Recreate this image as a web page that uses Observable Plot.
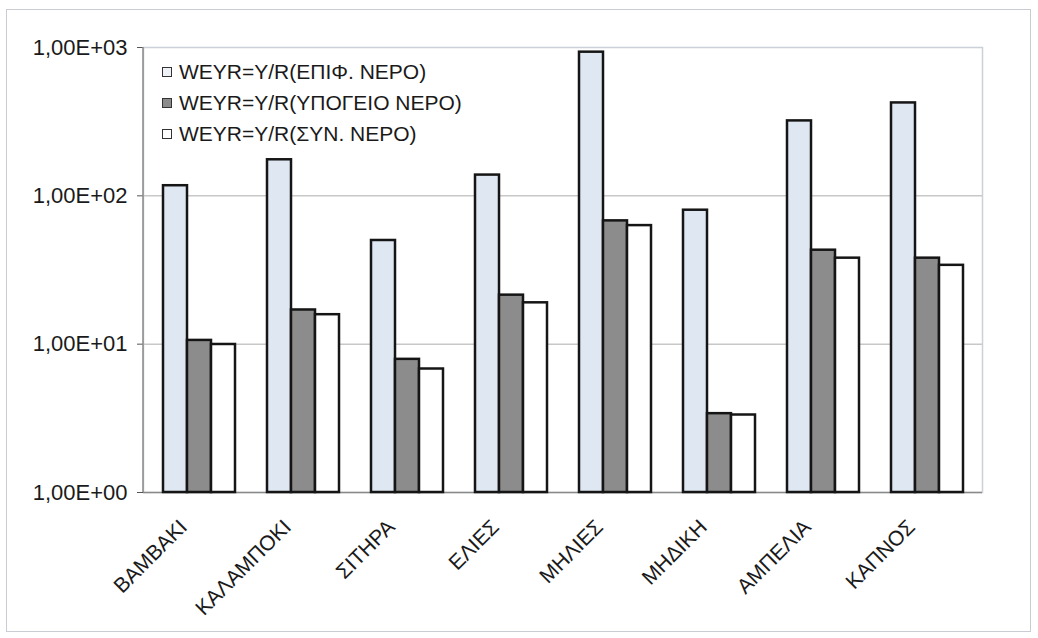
<!DOCTYPE html>
<html>
<head>
<meta charset="utf-8">
<script src="https://cdn.jsdelivr.net/npm/d3@7"></script>
<script src="https://cdn.jsdelivr.net/npm/@observablehq/plot@0.6"></script>
<style>
  body { margin: 0; background: #fff; font-family: "Liberation Sans", Arial, sans-serif; }
  #wrap { position: relative; width: 1038px; height: 638px; }
  #frame { position: absolute; left: 6px; top: 9px; width: 1025px; height: 623px;
           border: 1.5px solid #c9ccd3; box-sizing: border-box; pointer-events: none; }
  #legend { position: absolute; left: 162px; top: 56px; font-size: 21px; color: #1a1a1a; }
  .row { display: flex; align-items: center; height: 31px; white-space: nowrap; }
  .sw { width: 10px; height: 10px; border: 1.5px solid #333; margin-right: 7px; box-sizing: border-box; }
</style>
</head>
<body>
<div id="wrap">
  <div id="chart"></div>
  <div id="legend"></div>
  <div id="frame"></div>
</div>
<script>
// Crops
const categories = ["ΒΑΜΒΑΚΙ", "ΚΑΛΑΜΠΟΚΙ", "ΣΙΤΗΡΑ", "ΕΛΙΕΣ", "ΜΗΛΙΕΣ", "ΜΗΔΙΚΗ", "ΑΜΠΕΛΙΑ", "ΚΑΠΝΟΣ"];

// Series names
const seriesNames = ["WEYR=Y/R(ΕΠΙΦ. ΝΕΡΟ)", "WEYR=Y/R(ΥΠΟΓΕΙΟ ΝΕΡΟ)", "WEYR=Y/R(ΣΥΝ. ΝΕΡΟ)"];

// Water economic yield ratio per crop
const surfaceWater = [117, 175, 50, 138, 930, 80, 320, 423];
const groundWater  = [10.6, 17, 7.9, 21.4, 67.8, 3.4, 43, 38];
const combinedWater = [9.95, 15.8, 6.8, 19, 63, 3.33, 38, 34];

// Y axis ticks (log scale)
const yTicks = [1, 10, 100, 1000];

const seriesValues = [surfaceWater, groundWater, combinedWater];
const seriesFill = ["#dfe7f2", "#8c8c8c", "#ffffff"];

const fmt = d => {
  const e = Math.round(Math.log10(d));
  const m = d / Math.pow(10, e);
  return m.toFixed(2).replace(".", ",") + "E" + (e < 0 ? "-" : "+") + String(Math.abs(e)).padStart(2, "0");
};

const barWidth = 24;
const bars = seriesValues.map((vals, s) =>
  Plot.barY(
    categories.map((c, i) => ({crop: c, value: vals[i]})),
    {
      x: "crop", y1: 1, y2: "value",
      dx: (s - 1) * barWidth,
      fill: seriesFill[s], stroke: "#151515", strokeWidth: 2.5
    }
  )
);

const font = "'Liberation Sans', Arial, sans-serif";

const chart = Plot.plot({
  width: 1038,
  height: 638,
  marginLeft: 143,
  marginRight: 56,
  marginTop: 47,
  marginBottom: 146,
  style: { fontFamily: font, fontSize: "20px", color: "#1a1a1a", background: "transparent" },
  x: {
    domain: categories,
    paddingInner: 0.771,
    paddingOuter: 0.3855,
    label: null
  },
  y: {
    type: "log",
    domain: [1, 1000],
    label: null
  },
  marks: [
    Plot.frame({ stroke: "#ccd0d8", strokeWidth: 1.5 }),
    Plot.gridY([10, 100], { stroke: "#c8c8c8", strokeOpacity: 1, strokeWidth: 1.5 }),
    Plot.ruleY([1], { stroke: "#8a8a8a", strokeWidth: 1.5 }),
    ...bars,
    Plot.axisY({ ticks: yTicks, tickFormat: fmt, tickSize: 6, tickPadding: 10, label: null, stroke: "#555", fontSize: 22 }),
    Plot.axisX({ tickSize: 0, tickRotate: -45, tickPadding: 20, dx: -16, dy: 11, label: null, fontSize: 21 })
  ]
});
document.getElementById("chart").appendChild(chart);

// Left axis line drawn over the frame edge
const svg = d3.select(chart);
svg.append("line")
  .attr("x1", 143).attr("x2", 143)
  .attr("y1", 47).attr("y2", 638 - 146)
  .attr("stroke", "#8a8a8a").attr("stroke-width", 1.5);

// Legend
const legend = document.getElementById("legend");
seriesNames.forEach((name, s) => {
  const row = document.createElement("div");
  row.className = "row";
  const sw = document.createElement("span");
  sw.className = "sw";
  sw.style.background = s === 1 ? "#8c8c8c" : (s === 0 ? "#eef1f5" : "#fff");
  const t = document.createElement("span");
  t.textContent = name;
  row.appendChild(sw);
  row.appendChild(t);
  legend.appendChild(row);
});
</script>
</body>
</html>
